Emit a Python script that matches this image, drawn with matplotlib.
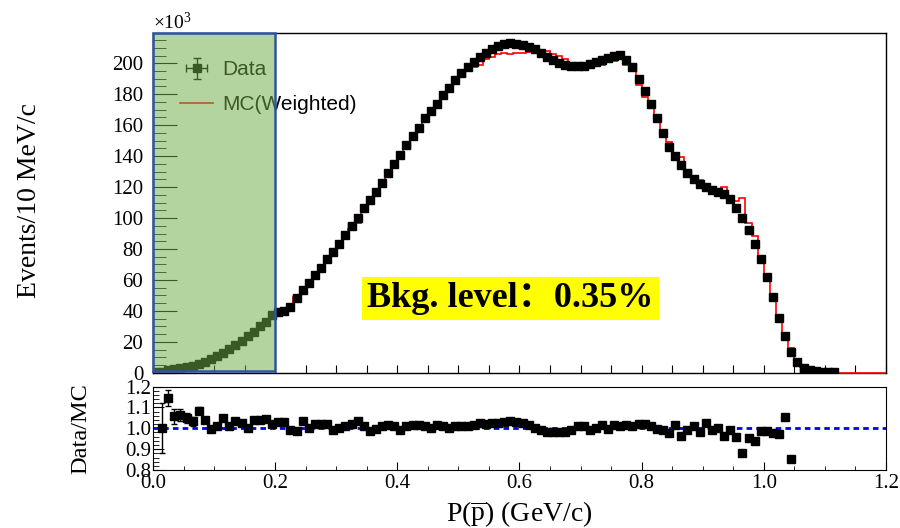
import numpy as np
import matplotlib
matplotlib.use('Agg')
import matplotlib.pyplot as plt
from matplotlib.patches import Rectangle
from matplotlib.ticker import MultipleLocator, FormatStrFormatter

plt.rcParams['font.family'] = ['Liberation Serif', 'DejaVu Serif']
plt.rcParams['mathtext.fontset'] = 'custom'
plt.rcParams['mathtext.rm'] = 'Liberation Serif'
plt.rcParams['mathtext.it'] = 'Liberation Serif:italic'

bin_width = 0.01

# anti-proton momentum, data events per 10 MeV/c (x10^3), bins from 0.00 to 1.12 GeV/c
data = [0.3, 0.8, 1.5, 2.2, 2.8, 3.5, 4.3, 5.6, 7.1, 8.7,
        10.8, 12.5, 15.1, 17.9, 20.7, 23.7, 26.5, 30.0, 33.0, 37.5,
        39.0, 40.0, 42.5, 48.0, 53.5, 58.0, 63.0, 68.0, 73.3, 78.2,
        83.2, 89.0, 94.8, 99.8, 106.3, 111.7, 117.0, 122.5, 129.0, 135.0,
        141.0, 147.0, 153.0, 158.0, 164.5, 169.0, 174.0, 179.5, 184.0, 189.0,
        193.5, 197.5, 201.0, 204.0, 206.5, 209.0, 211.0, 212.5, 213.0, 212.5,
        211.5, 210.5, 209.0, 206.5, 204.0, 202.0, 200.5, 199.0, 198.0, 198.0,
        198.5, 199.5, 201.0, 202.0, 203.5, 205.0, 205.5, 202.0, 197.5, 190.0,
        182.0, 174.0, 164.5, 155.0, 146.0, 140.0, 134.0, 129.0, 125.0, 122.0,
        120.3, 118.0, 117.0, 115.6, 112.0, 106.5, 100.0, 92.3, 83.2, 73.3,
        61.6, 49.0, 35.7, 23.6, 13.5, 7.0, 3.0, 1.5, 0.9, 0.6,
        0.4, 0.3]

# Data/MC for bins 1..104
ratio = [1.000, 1.145, 1.057, 1.065, 1.050, 1.033, 1.085, 1.038, 0.997, 1.013,
         1.048, 1.013, 1.033, 1.025, 1.000, 1.038, 1.038, 1.044, 1.020, 1.028,
         1.028, 0.990, 0.986, 1.033, 1.000, 1.020, 1.020, 1.020, 0.990, 1.000,
         1.013, 1.020, 1.033, 1.010, 0.986, 0.997, 1.010, 1.014, 1.010, 0.994,
         1.010, 1.017, 1.017, 1.013, 1.000, 1.017, 1.010, 1.000, 1.010, 1.010,
         1.013, 1.017, 1.025, 1.020, 1.025, 1.025, 1.028, 1.033, 1.028, 1.025,
         1.017, 1.000, 0.994, 0.980, 0.980, 0.980, 0.980, 0.994, 1.013, 1.010,
         0.994, 1.000, 1.017, 0.997, 1.017, 1.010, 1.017, 1.013, 1.022, 1.022,
         1.010, 0.997, 0.994, 0.978, 1.017, 0.962, 0.994, 1.010, 0.980, 1.025,
         0.994, 1.000, 0.962, 0.994, 0.959, 0.883, 0.954, 0.938, 0.986, 0.986,
         0.978, 0.975, 1.054, 0.851]
ratio_err_low = [0.12, 0.04, 0.035, 0.03, 0.025, 0.02, 0.015, 0.01]

# MC where no ratio is shown: first bin and the tail out to 1.2 GeV/c
mc_first = [0.3]
mc_tail = [8.0, 4.0, 2.2, 1.3, 0.8, 0.5, 0.3, 0, 0, 0, 0, 0, 0, 0, 0]

data = np.array(data)
ratio = np.array(ratio)
ratio_err = np.zeros(len(ratio))
ratio_err[:len(ratio_err_low)] = ratio_err_low

centers = (np.arange(len(data)) + 0.5) * bin_width
mc = np.concatenate([mc_first, data[1:1 + len(ratio)] / ratio, mc_tail])
mc_edges = np.arange(len(mc) + 1) * bin_width

fig = plt.figure(figsize=(9, 5.28), dpi=100)
ax = fig.add_axes([0.17, 0.294, 0.8144, 0.643])
ax_r = fig.add_axes([0.17, 0.1098, 0.8144, 0.158])

# upper panel
h_mc = ax.stairs(mc, mc_edges, color='red', lw=1.2, clip_on=False, zorder=3)
h_data = ax.errorbar(centers, data, yerr=np.sqrt(data * 1000) / 1000, xerr=bin_width / 2,
                     fmt='s', color='black', ms=5.5, elinewidth=1, capsize=3, zorder=4)
ax.set_xlim(0, 1.2)
ax.set_ylim(0, 219.4)
ax.xaxis.set_major_locator(MultipleLocator(0.05))
ax.yaxis.set_major_locator(MultipleLocator(20))
ax.yaxis.set_minor_locator(MultipleLocator(5))
ax.tick_params(which='both', direction='in', top=False, right=False)
ax.tick_params(axis='y', which='major', length=17, labelsize=15, pad=7)
ax.tick_params(axis='y', which='minor', length=9)
ax.tick_params(axis='x', which='major', length=6, labelbottom=False)
for s in ax.spines.values():
    s.set_linewidth(1)
ax.text(0, 1.0, '×10$^{3}$', transform=ax.transAxes, ha='left', va='bottom', fontsize=14)

ax.legend(handles=[h_data, h_mc], labels=['Data', 'MC(Weighted)'], loc='upper left',
          bbox_to_anchor=(0.037, 0.92), frameon=False, borderpad=0, borderaxespad=0,
          prop={'family': 'Liberation Sans', 'size': 15},
          handlelength=1.6, handletextpad=0.4, labelspacing=0.75)

ax.text(0.351, 48, 'Bkg. level：0.35%', fontsize=26, fontweight='bold',
        family=['Liberation Serif', 'Noto Sans CJK SC'], ha='left', va='center',
        bbox=dict(boxstyle='square,pad=0.15', fc='yellow', ec='none'), zorder=6)

# shaded low-momentum region
ax.add_patch(Rectangle((0, 0), 0.2, 1, transform=ax.get_xaxis_transform(),
                       facecolor='#70AD47', alpha=0.52, edgecolor='none',
                       zorder=10, clip_on=False))
ax.add_patch(Rectangle((0, 0.005), 0.2, 0.995, transform=ax.get_xaxis_transform(),
                       fill=False, edgecolor='#2F55A0', lw=1.8, zorder=11, clip_on=False))

# ratio panel
ax_r.axhline(1.0, color='blue', ls=(0, (2, 1.5)), lw=2, zorder=2)
ax_r.errorbar(centers[1:1 + len(ratio)], ratio, yerr=ratio_err, fmt='s', color='black',
              ms=5.5, elinewidth=1, capsize=2, zorder=3)
ax_r.set_xlim(0, 1.2)
ax_r.set_ylim(0.8, 1.2)
ax_r.xaxis.set_major_locator(MultipleLocator(0.2))
ax_r.xaxis.set_minor_locator(MultipleLocator(0.05))
ax_r.xaxis.set_major_formatter(FormatStrFormatter('%.1f'))
ax_r.yaxis.set_major_locator(MultipleLocator(0.1))
ax_r.yaxis.set_minor_locator(MultipleLocator(0.02))
ax_r.yaxis.set_major_formatter(FormatStrFormatter('%.1f'))
ax_r.tick_params(which='both', direction='in', top=False, right=False, labelsize=15)
ax_r.tick_params(axis='x', which='major', length=6, pad=3)
ax_r.tick_params(axis='x', which='minor', length=3)
ax_r.tick_params(axis='y', which='major', length=8, pad=1)
ax_r.tick_params(axis='y', which='minor', length=4)

fig.text(0.0333, 0.621, 'Events/10 MeV/c', rotation=90, fontsize=20, ha='center', va='center')
fig.text(0.09, 0.189, 'Data/MC', rotation=90, fontsize=17.5, ha='center', va='center')
fig.text(0.577, 0.0265, r'P($\overline{\mathrm{p}}$) (GeV/c)', fontsize=20, ha='center', va='center')

fig.savefig('out.png', dpi=100)
